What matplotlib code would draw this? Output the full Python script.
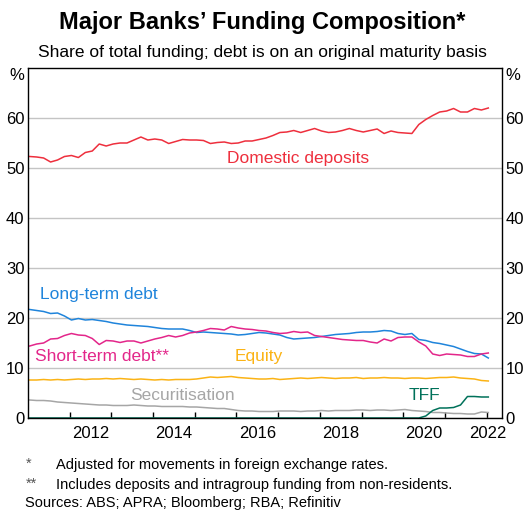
import numpy as np
import pandas as pd
import matplotlib
matplotlib.use("Agg")
import matplotlib.pyplot as plt

plt.rcParams["font.family"] = ["Liberation Sans", "DejaVu Sans"]

# bi-monthly observations, Jan 2011 to Jan 2022 (per cent of total funding)
dates = pd.date_range("2011-01-01", "2022-01-01", freq="2MS")

domestic_deposits = [
    52.3, 52.2, 52.0, 51.2, 51.6, 52.3, 52.5, 52.1, 53.1, 53.4,
    54.8, 54.4, 54.8, 55.0, 55.0, 55.6, 56.2, 55.6, 55.8, 55.6,
    54.9, 55.3, 55.7, 55.6, 55.6, 55.5, 54.9, 55.1, 55.2, 54.9,
    55.0, 55.4, 55.4, 55.7, 56.0, 56.5, 57.1, 57.2, 57.5, 57.1,
    57.5, 57.9, 57.4, 57.1, 57.2, 57.5, 57.9, 57.5, 57.2, 57.5,
    57.8, 56.9, 57.4, 57.1, 57.0, 56.9, 58.7, 59.7, 60.5, 61.2,
    61.4, 61.9, 61.2, 61.2, 61.9, 61.6, 62.0,
]
long_term_debt = [
    21.7, 21.5, 21.3, 20.9, 21.0, 20.4, 19.6, 19.9, 19.6, 19.7,
    19.5, 19.3, 19.0, 18.8, 18.6, 18.5, 18.4, 18.3, 18.1, 17.9,
    17.8, 17.8, 17.8, 17.5, 17.1, 17.2, 17.1, 17.0, 16.9, 16.8,
    16.6, 16.7, 16.9, 17.1, 17.0, 16.8, 16.6, 16.1, 15.8, 15.9,
    16.0, 16.1, 16.3, 16.5, 16.7, 16.8, 16.9, 17.1, 17.2, 17.2,
    17.3, 17.5, 17.4, 16.9, 16.7, 16.9, 15.7, 15.5, 15.1, 14.9,
    14.6, 14.3, 13.8, 13.3, 12.9, 12.8, 12.0,
]
short_term_debt = [
    14.4, 14.8, 15.0, 15.8, 15.9, 16.5, 16.9, 16.6, 16.5, 15.9,
    14.7, 15.5, 15.4, 15.1, 15.4, 15.4, 15.0, 15.4, 15.8, 16.1,
    16.5, 16.2, 16.5, 17.0, 17.2, 17.5, 17.9, 17.8, 17.6, 18.3,
    18.0, 17.8, 17.7, 17.5, 17.4, 17.1, 16.9, 17.0, 17.3, 17.1,
    17.2, 16.5, 16.3, 16.1, 15.9, 15.7, 15.6, 15.5, 15.5, 15.2,
    15.0, 15.8, 15.4, 16.1, 16.2, 16.2, 15.2, 14.4, 12.8, 12.5,
    12.8, 12.7, 12.6, 12.3, 12.3, 12.8, 13.0,
]
equity = [
    7.6, 7.6, 7.7, 7.6, 7.7, 7.6, 7.7, 7.8, 7.7, 7.8,
    7.8, 7.9, 7.8, 7.9, 7.8, 7.7, 7.8, 7.7, 7.6, 7.7,
    7.6, 7.7, 7.7, 7.7, 7.8, 8.0, 8.2, 8.1, 8.2, 8.3,
    8.1, 8.0, 7.9, 7.8, 7.8, 7.9, 7.7, 7.8, 7.9, 8.0,
    7.9, 8.0, 8.1, 8.0, 7.9, 8.0, 8.0, 8.1, 7.9, 8.0,
    8.0, 8.1, 8.0, 8.0, 7.9, 8.0, 8.0, 7.9, 8.0, 8.1,
    8.1, 8.2, 8.0, 7.9, 7.8, 7.5, 7.4,
]
securitisation = [
    3.6, 3.5, 3.5, 3.4, 3.2, 3.1, 3.0, 2.9, 2.8, 2.7,
    2.6, 2.6, 2.5, 2.5, 2.5, 2.6, 2.5, 2.4, 2.4, 2.3,
    2.3, 2.3, 2.3, 2.2, 2.2, 2.1, 2.0, 1.9, 1.9, 1.7,
    1.5, 1.4, 1.4, 1.3, 1.3, 1.3, 1.4, 1.4, 1.4, 1.3,
    1.4, 1.4, 1.5, 1.4, 1.5, 1.5, 1.5, 1.6, 1.6, 1.5,
    1.6, 1.6, 1.5, 1.6, 1.7, 1.5, 1.4, 1.3, 1.1, 1.1,
    1.0, 0.9, 0.9, 0.8, 0.8, 1.2, 1.1,
]
tff = [0.0] * 56 + [0.0, 0.4, 1.5, 2.0, 2.0, 2.1, 2.6, 4.3, 4.3, 4.2, 4.2]

year_ticks = list(range(2012, 2023))
year_labels = ["2012", "2014", "2016", "2018", "2020", "2022"]

# decimal years, plotted mid-month
t = dates.year + (dates.month - 0.5) / 12

series = [
    (domestic_deposits, "#ee2f3d", "Domestic deposits", 2017.47, 52.0),
    (long_term_debt, "#1f84db", "Long-term debt", 2012.7, 24.8),
    (short_term_debt, "#e3268a", "Short-term debt**", 2012.77, 12.3),
    (equity, "#fbb315", "Equity", 2016.53, 12.4),
    (securitisation, "#a6a6a6", "Securitisation", 2014.71, 4.6),
    (tff, "#00715a", "TFF", 2020.51, 4.4),
]

fig = plt.figure(figsize=(5.25, 5.12), dpi=100)
ax = fig.add_axes([28 / 525, 94 / 512, 474 / 525, 350 / 512])

for values, color, label, lx, ly in series:
    ax.plot(t, values, color=color, lw=1.1, solid_joinstyle="round")
    ax.text(lx, ly, label, color=color, fontsize=12.5, ha="center", va="center")

ax.set_xlim(2011.0, 2022.37)
ax.set_ylim(0, 70)
ax.set_yticks(range(0, 70, 10))
ax.set_yticklabels([str(v) for v in range(0, 70, 10)])
ax.grid(axis="y", color="#c4c4c4", lw=1.0)
ax.set_axisbelow(True)
ax.tick_params(axis="y", which="both", left=False, right=False, length=0,
               labelleft=True, labelright=True, labelsize=12, pad=2.5)
for lbl_x in (-0.008, 1.008):
    ax.text(lbl_x, 68.6, "%", transform=ax.get_yaxis_transform(),
            ha="right" if lbl_x < 0 else "left", va="center", fontsize=12)

ax.set_xticks(year_ticks)
ax.set_xticklabels([])
ax.tick_params(axis="x", which="major", direction="in", length=4, width=1)
label_pos = [int(y) + 0.5 for y in year_labels[:-1]] + [2022.03]
ax.set_xticks(label_pos, minor=True)
ax.set_xticklabels(year_labels, minor=True)
ax.tick_params(axis="x", which="minor", length=0, labelsize=12, pad=6)

for sp in ax.spines.values():
    sp.set_color("black")
    sp.set_linewidth(1.0)

fig.text(0.5, 1 - 22 / 512, "Major Banks’ Funding Composition*",
         ha="center", va="center", fontsize=17, fontweight="bold")
fig.text(0.5, 1 - 52 / 512, "Share of total funding; debt is on an original maturity basis",
         ha="center", va="center", fontsize=12.5)

fig.text(26 / 525, 1 - 464 / 512, "*", ha="left", va="center", fontsize=10.5, color="#555555")
fig.text(56 / 525, 1 - 465 / 512, "Adjusted for movements in foreign exchange rates.",
         ha="left", va="center", fontsize=10.5)
fig.text(26 / 525, 1 - 484 / 512, "**", ha="left", va="center", fontsize=10.5, color="#555555")
fig.text(56 / 525, 1 - 485 / 512, "Includes deposits and intragroup funding from non-residents.",
         ha="left", va="center", fontsize=10.5)
fig.text(25 / 525, 1.5 / 512, "Sources: ABS; APRA; Bloomberg; RBA; Refinitiv",
         ha="left", va="bottom", fontsize=10.5)

fig.savefig("out.png", dpi=100)
